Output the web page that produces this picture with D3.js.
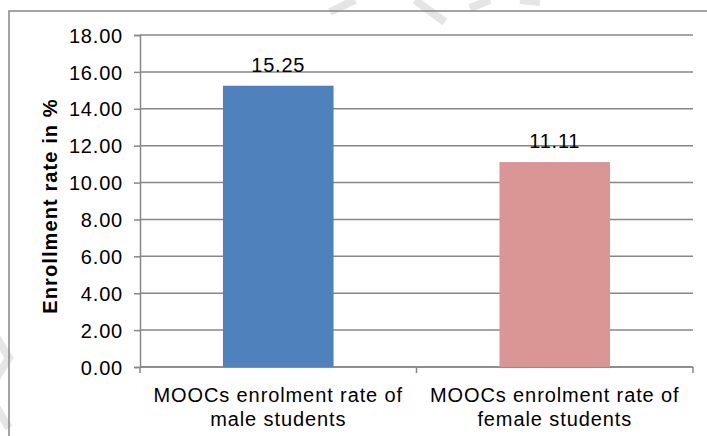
<!DOCTYPE html>
<html><head><meta charset="utf-8">
<script src="https://cdn.jsdelivr.net/npm/d3@7"></script>
<style>
html,body{margin:0;padding:0;background:#fff;}
svg{display:block;}
text{font-family:"Liberation Sans",Arial,sans-serif;fill:#000;}
</style></head>
<body>
<svg id="chart" width="707" height="436"></svg>
<script>
const categories = [["MOOCs enrolment rate of", "male students"], ["MOOCs enrolment rate of", "female students"]];
const values = [15.25, 11.11];
const labels = ["15.25", "11.11"];
const colors = ["#4F81BD", "#D99694"];
const yTicks = [0, 2, 4, 6, 8, 10, 12, 14, 16, 18];
const yTitle = "Enrollment rate in %";

(function () {
const svg = d3.select("#chart");
const pLeft = 140, pRight = 693, pTop = 35, pBottom = 367;
const grid = "#878787";

// faint watermark strokes
const wm = svg.append("g").attr("stroke", "#e5e5e5").attr("stroke-width", 8).attr("fill", "none");
wm.append("path").attr("d", "M330,12 L355,0");
wm.append("path").attr("d", "M415,0 L445,22");
wm.append("path").attr("d", "M470,8 L490,0");
wm.append("path").attr("d", "M520,0 L540,2");
wm.append("path").attr("d", "M-5,335 L9,358 L-5,380");
wm.append("path").attr("d", "M-5,405 L9,428");

// outer border (extends beyond the image right/bottom)
svg.append("rect").attr("x", 9).attr("y", 11).attr("width", 720).attr("height", 450)
  .attr("fill", "none").attr("stroke", grid).attr("stroke-width", 1.5);

const x = d3.scaleBand().domain(d3.range(values.length)).range([pLeft, pRight]).paddingInner(0.6).paddingOuter(0.3);
const xb = d3.scaleBand().domain(d3.range(values.length)).range([pLeft, pRight]);
const y = d3.scaleLinear().domain([0, 18]).range([pBottom, pTop]);

// gridlines
svg.append("g").selectAll("line").data(yTicks).join("line")
  .attr("x1", pLeft).attr("x2", pRight)
  .attr("y1", d => y(d)).attr("y2", d => y(d))
  .attr("stroke", grid).attr("stroke-width", 1.5);

// y axis
const yAxis = svg.append("g").attr("transform", `translate(${pLeft},0)`)
  .call(d3.axisLeft(y).tickValues(yTicks).tickFormat(d3.format(".2f")).tickSize(6).tickPadding(11));
yAxis.select(".domain").attr("stroke", grid).attr("stroke-width", 1.5);
yAxis.selectAll(".tick line").attr("stroke", grid).attr("stroke-width", 1.5);
yAxis.selectAll(".tick text").attr("font-size", 20).attr("letter-spacing", "0.8px")
  .attr("font-family", "Liberation Sans, Arial, sans-serif").attr("fill", "#000").attr("dy", "0.36em");

// x axis
const xAxisG = svg.append("g");
xAxisG.append("line").attr("x1", pLeft).attr("x2", pRight).attr("y1", pBottom).attr("y2", pBottom)
  .attr("stroke", grid).attr("stroke-width", 1.5);
const bounds = [0, 1, 2].map(i => i < 2 ? xb(i) : pRight);
xAxisG.selectAll("line.tk").data(bounds).join("line").attr("class", "tk")
  .attr("x1", d => d).attr("x2", d => d).attr("y1", pBottom).attr("y2", pBottom + 6)
  .attr("stroke", grid).attr("stroke-width", 1.5);

// bars
svg.append("g").selectAll("rect").data(values).join("rect")
  .attr("x", (d, i) => x(i)).attr("width", x.bandwidth())
  .attr("y", d => y(d)).attr("height", d => pBottom - y(d))
  .attr("fill", (d, i) => colors[i]);

// data labels
svg.append("g").selectAll("text").data(values).join("text")
  .attr("x", (d, i) => x(i) + x.bandwidth() / 2).attr("y", d => y(d) - 14)
  .attr("text-anchor", "middle").attr("font-size", 20).attr("letter-spacing", "0.8px")
  .text((d, i) => labels[i]);

// category labels
const cl = svg.append("g").selectAll("text").data(categories).join("text")
  .attr("text-anchor", "middle").attr("font-size", 20).attr("letter-spacing", "0.9px")
  .attr("x", (d, i) => xb(i) + xb.bandwidth() / 2);
cl.selectAll("tspan").data(d => d).join("tspan")
  .attr("x", function () { return this.parentNode.getAttribute("x"); })
  .attr("y", (d, j) => 402 + j * 23.5)
  .text(d => d);

// y title
svg.append("text").attr("transform", `translate(57,206) rotate(-90)`)
  .attr("text-anchor", "middle").attr("font-size", 20).attr("font-weight", "bold").attr("letter-spacing", "1.1px")
  .text(yTitle);
})();
</script>
</body></html>
